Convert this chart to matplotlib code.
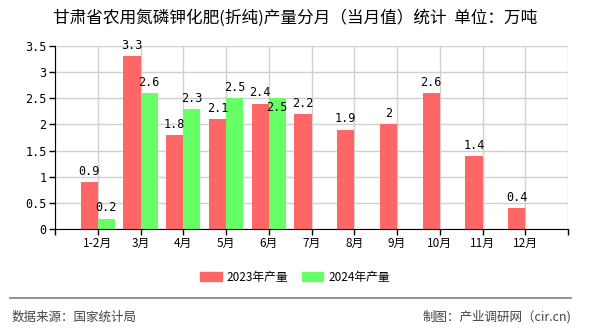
import numpy as np
import matplotlib
matplotlib.use("Agg")
from matplotlib import pyplot as plt
from matplotlib.patches import Patch

plt.rcParams["font.family"] = ["Noto Sans CJK SC", "DejaVu Sans"]

months = ["1-2月", "3月", "4月", "5月", "6月", "7月", "8月", "9月", "10月", "11月", "12月"]
y2023 = [0.9, 3.3, 1.8, 2.1, 2.4, 2.2, 1.9, 2, 2.6, 1.4, 0.4]
y2024 = [0.2, 2.6, 2.3, 2.5, 2.5]
yticks = [0, 0.5, 1, 1.5, 2, 2.5, 3, 3.5]
ytick_labels = ["0", "0.5", "1", "1.5", "2", "2.5", "3", "3.5"]

red = "#ff6666"
green = "#66ff66"

fig = plt.figure(figsize=(5.9, 3.3), dpi=100)
ax = fig.add_axes([55 / 590, 1 - 229 / 330, 513 / 590, 183 / 330])

x = np.arange(len(months))
x24 = np.arange(len(y2024))
w = 0.4
ax.bar(x - w / 2, y2023, w, color=red, zorder=2)
ax.bar(x24 + w / 2, y2024, w, color=green, zorder=2)

for xi, v in zip(x, y2023):
    ax.text(xi - w / 2, v + 0.08, f"{v:g}", ha="center", va="bottom", fontsize=8.5,
            family="DejaVu Sans Mono", zorder=3)
for xi, v in zip(x24, y2024):
    # label collides with the red one next to it -> drop it just under the bar top
    if abs(v - y2023[xi]) < 0.25 and v > y2023[xi]:
        ax.text(xi + w / 2, v - 0.05, f"{v:g}", ha="center", va="top", fontsize=8.5,
                family="DejaVu Sans Mono", zorder=3)
    else:
        ax.text(xi + w / 2, v + 0.08, f"{v:g}", ha="center", va="bottom", fontsize=8.5,
                family="DejaVu Sans Mono", zorder=3)

ax.set_xlim(-1, len(months))
ax.set_ylim(0, 3.5)
ax.set_xticks(np.arange(-1, len(months) + 1))
ax.set_xticklabels([""] + months + [""], fontsize=8.5)
ax.set_yticks(yticks)
ax.set_yticklabels(ytick_labels, fontsize=8.5, family="DejaVu Sans Mono")
ax.grid(True, color="#d0d0d0", linewidth=1, zorder=0)
ax.tick_params(length=4, width=1, color="black", pad=2)
for s in ["top", "right"]:
    ax.spines[s].set_visible(False)
ax.spines["left"].set_color("black")
ax.spines["bottom"].set_color("black")

fig.text(0.5, 1 - 18 / 330, "甘肃省农用氮磷钾化肥(折纯)产量分月（当月值）统计  单位：万吨",
         ha="center", va="center", fontsize=12)

handles = [Patch(color=red, label="2023年产量"), Patch(color=green, label="2024年产量")]
fig.legend(handles=handles, loc="center", bbox_to_anchor=(0.5, 1 - 277 / 330), ncol=2,
           frameon=False, fontsize=8.5, handlelength=1.8, handleheight=0.9,
           columnspacing=1.2, handletextpad=0.4)

fig.add_artist(plt.Line2D([10 / 590, 571 / 590], [1 - 298 / 330, 1 - 298 / 330],
                          color="#808080", linewidth=1.2))
fig.text(12 / 590, 1 - 317 / 330, "数据来源：国家统计局", ha="left", va="center",
         fontsize=9, color="#444444")
fig.text(571 / 590, 1 - 317 / 330, "制图：产业调研网（cir.cn)", ha="right", va="center",
         fontsize=9, color="#444444")

fig.savefig("out.png", dpi=100)
